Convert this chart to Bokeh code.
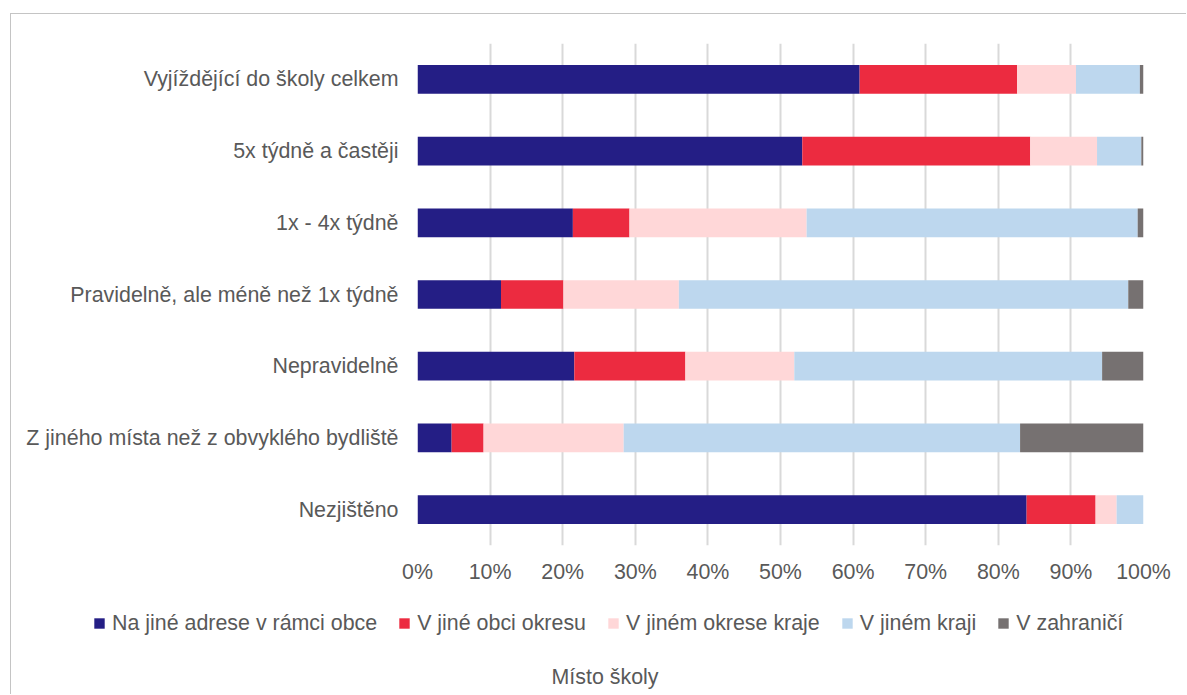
from bokeh.plotting import figure
from bokeh.layouts import column
from bokeh.models import (Range1d, FactorRange, FixedTicker, Legend, LegendItem, Label,
                          ColumnDataSource)
from bokeh.embed import file_html
from bokeh.resources import INLINE

# ---------------- data ----------------
categories = [
    "Vyjíždějící do školy celkem",
    "5x týdně a častěji",
    "1x - 4x týdně",
    "Pravidelně, ale méně než 1x týdně",
    "Nepravidelně",
    "Z jiného místa než z obvyklého bydliště",
    "Nezjištěno",
]
series_names = [
    "Na jiné adrese v rámci obce",
    "V jiné obci okresu",
    "V jiném okrese kraje",
    "V jiném kraji",
    "V zahraničí",
]
na_jine_adrese = [60.9, 53.0, 21.4, 11.5, 21.6, 4.7, 83.9]
v_jine_obci = [21.7, 31.4, 7.8, 8.6, 15.3, 4.4, 9.5]
v_jinem_okrese = [8.1, 9.2, 24.4, 15.9, 15.0, 19.3, 2.9]
v_jinem_kraji = [8.8, 6.1, 45.6, 61.9, 42.4, 54.6, 3.7]
v_zahranici = [0.5, 0.3, 0.8, 2.1, 5.7, 17.0, 0.0]
x_ticks = [0, 10, 20, 30, 40, 50, 60, 70, 80, 90, 100]
x_tick_labels = ["0%", "10%", "20%", "30%", "40%", "50%", "60%", "70%", "80%", "90%", "100%"]
axis_title = "Místo školy"

colors = ["#241e85", "#ec2b40", "#ffd7d8", "#bdd7ee", "#767171"]
TEXT = "#595959"
FONT = "Liberation Sans"
FS = "21.4px"

W = 1175
H1 = 576
H2 = 104

keys = ["s0", "s1", "s2", "s3", "s4"]
src = ColumnDataSource(dict(
    cat=categories,
    s0=na_jine_adrese, s1=v_jine_obci, s2=v_jinem_okrese, s3=v_jinem_kraji, s4=v_zahranici,
))

# ---------------- main chart ----------------
p = figure(
    width=W, height=H1,
    x_range=Range1d(0, 100),
    y_range=FactorRange(factors=list(reversed(categories))),
    output_backend="svg", toolbar_location=None,
    min_border_left=406, min_border_right=43, min_border_top=29, min_border_bottom=45,
)
p.frame_align = False
p.outline_line_color = None
p.background_fill_color = "white"

renderers = p.hbar_stack(keys, y="cat", height=0.4, color=colors, source=src, line_color=None)

p.xaxis.ticker = FixedTicker(ticks=x_ticks)
p.xaxis.major_label_overrides = {t: l for t, l in zip(x_ticks, x_tick_labels)}
for ax in (p.xaxis, p.yaxis):
    ax.axis_line_color = None
    ax.major_tick_line_color = None
    ax.minor_tick_line_color = None
    ax.major_tick_in = 0
    ax.major_tick_out = 0
    ax.major_label_text_font = FONT
    ax.major_label_text_font_size = FS
    ax.major_label_text_color = TEXT
p.xaxis.major_label_standoff = 14
p.yaxis.major_label_standoff = 19

p.xgrid.grid_line_color = "#d9d9d9"
p.xgrid.grid_line_width = 2
p.ygrid.grid_line_color = None

# ---------------- legend + axis title strip ----------------
q = figure(
    width=W, height=H2,
    x_range=Range1d(0, W), y_range=Range1d(0, H2),
    output_backend="svg", toolbar_location=None,
    x_axis_type=None, y_axis_type=None,
    min_border=0, min_border_left=0, min_border_right=0, min_border_top=0, min_border_bottom=0,
)
q.frame_align = False
q.outline_line_color = None
q.xgrid.visible = False
q.ygrid.visible = False

# legend swatches: renderers whose only point lies outside the visible strip
items = []
for name, c in zip(series_names, colors):
    dummy = ColumnDataSource(dict(x=[-500], y=[-500]))
    r = q.scatter(x="x", y="y", source=dummy, marker="square", size=10.4,
                  fill_color=c, line_color=None)
    items.append(LegendItem(label=name, renderers=[r]))
legend = Legend(
    items=items, orientation="horizontal", location=(75, 58),
    glyph_width=26, glyph_height=26, label_height=26, label_standoff=0, spacing=14,
    padding=0, margin=0, border_line_color=None, background_fill_alpha=0,
    label_text_font=FONT, label_text_font_size=FS, label_text_color=TEXT,
)
q.add_layout(legend, "center")
q.add_layout(Label(x=593.5, y=18, text=axis_title, text_align="center", text_baseline="middle",
                   text_font=FONT, text_font_size=FS, text_color=TEXT))

layout = column(p, q, spacing=0)
layout.styles = {"border-top": "1px solid #c4c4c4", "border-left": "1px solid #c4c4c4",
                 "margin-top": "13px", "margin-left": "10px"}

open("out.html", "w").write(file_html(layout, INLINE))
